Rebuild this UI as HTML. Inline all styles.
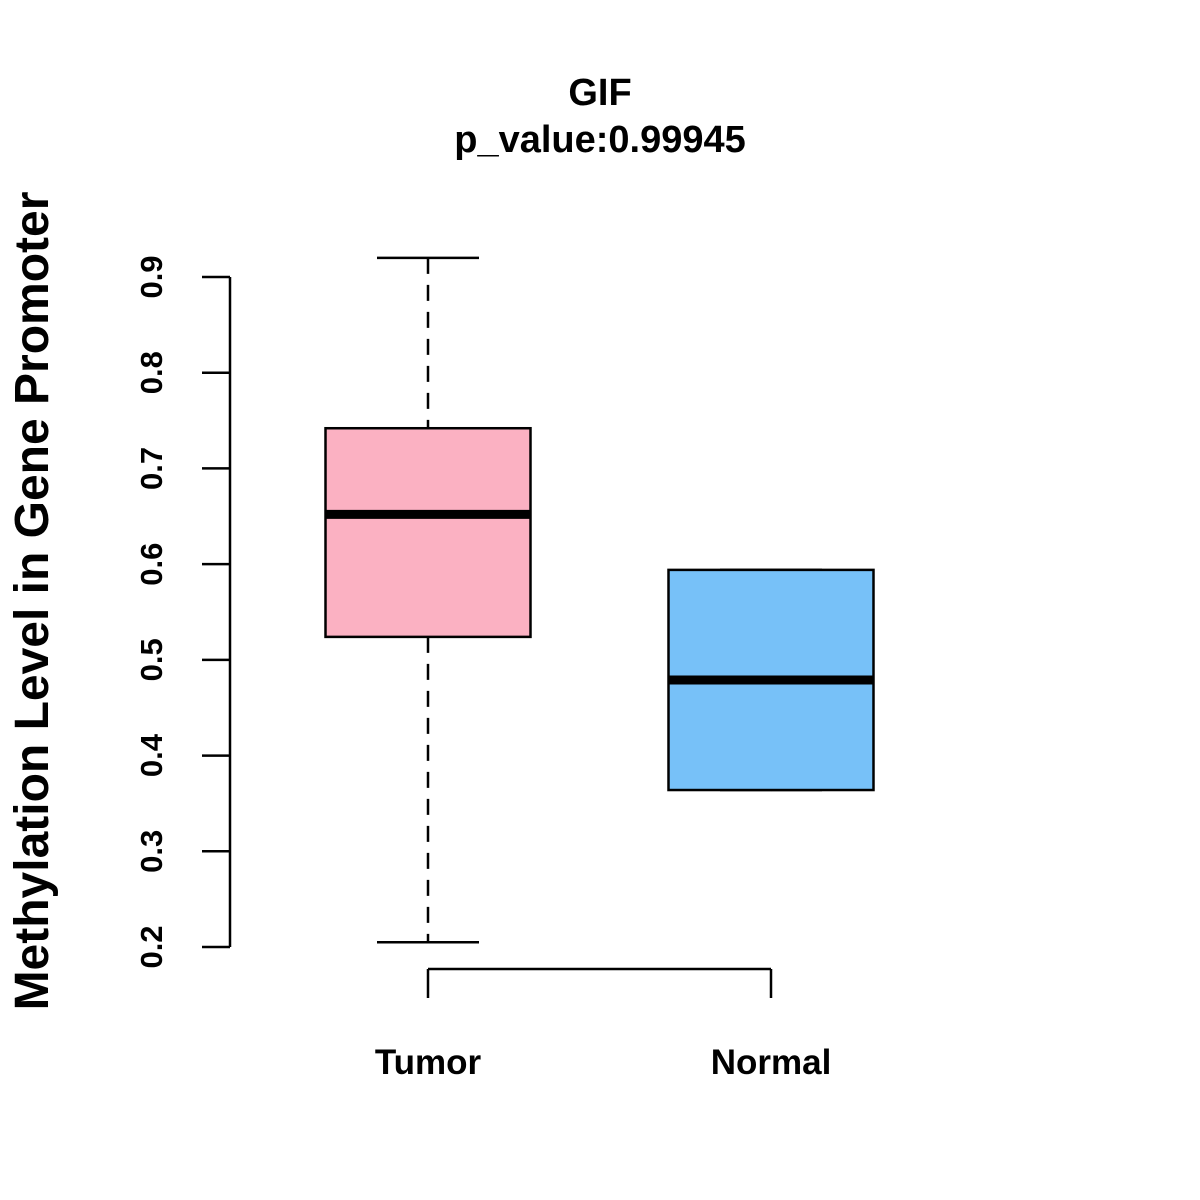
<!DOCTYPE html>
<html><head><meta charset="utf-8">
<style>
html,body{margin:0;padding:0;background:#fff;}
svg{display:block;font-family:"Liberation Sans",Arial,sans-serif;font-weight:bold;}
</style></head>
<body>
<svg id="chart" width="1200" height="1200" viewBox="0 0 1200 1200">
<text x="600" y="105" text-anchor="middle" font-size="38">GIF</text>
<text x="600" y="152" text-anchor="middle" font-size="38">p_value:0.99945</text>
<text transform="translate(48,601) rotate(-90)" text-anchor="middle" font-size="48">Methylation Level in Gene Promoter</text>
<g id="yaxis"></g>
<g id="xaxis"></g>
<g id="boxes"></g>
</svg>
<script>
const categories = ["Tumor", "Normal"];
const colors = ["#FBB1C2", "#77C1F8"];
const whiskerLow = [0.205, 0.364];
const q1 = [0.524, 0.364];
const medians = [0.652, 0.479];
const q3 = [0.742, 0.594];
const whiskerHigh = [0.920, 0.594];
const yTicks = [0.2, 0.3, 0.4, 0.5, 0.6, 0.7, 0.8, 0.9];

const NS = "http://www.w3.org/2000/svg";
function y(v){ return 947 - (v - 0.2) / 0.7 * 670; }
function x(i){ return 428 + i * 343; }
function mk(tag, attrs, parent){
  const e = document.createElementNS(NS, tag);
  for (const k in attrs) e.setAttribute(k, attrs[k]);
  parent.appendChild(e);
  return e;
}
const ya = document.getElementById('yaxis');
mk('line', {x1:230, x2:230, y1:y(yTicks[0]), y2:y(yTicks[yTicks.length-1]), stroke:'#000', 'stroke-width':2.5}, ya);
yTicks.forEach(t => {
  const l = mk('line', {x1:202, x2:230, y1:y(t), y2:y(t), stroke:'#000', 'stroke-width':2.5}, ya);
  
  
  const tx = mk('text', {transform:`translate(162,${y(t)}) rotate(-90)`, 'text-anchor':'middle', 'font-size':31}, ya);
  tx.textContent = t.toFixed(1);
  
  
});
const xa = document.getElementById('xaxis');
mk('line', {x1:x(0), x2:x(categories.length-1), y1:969, y2:969, stroke:'#000', 'stroke-width':2.5}, xa);
categories.forEach((c, i) => {
  const l = mk('line', {x1:x(i), x2:x(i), y1:969, y2:998, stroke:'#000', 'stroke-width':2.5}, xa);
  
  
  const tx = mk('text', {x:x(i), y:1074, 'text-anchor':'middle', 'font-size':35}, xa);
  tx.textContent = c;
  
  
});
const bg = document.getElementById('boxes');
categories.forEach((c, i) => {
  const cx = x(i), hw = 102.5, cw = 51;
  const g = mk('g', {}, bg);
  
  
  mk('line', {x1:cx, x2:cx, y1:y(whiskerHigh[i]), y2:y(q3[i]), stroke:'#000', 'stroke-width':2.5, 'stroke-dasharray':'16,11'}, g);
  mk('line', {x1:cx, x2:cx, y1:y(q1[i]), y2:y(whiskerLow[i]), stroke:'#000', 'stroke-width':2.5, 'stroke-dasharray':'16,11'}, g);
  mk('line', {x1:cx-cw, x2:cx+cw, y1:y(whiskerHigh[i]), y2:y(whiskerHigh[i]), stroke:'#000', 'stroke-width':2.5}, g);
  mk('line', {x1:cx-cw, x2:cx+cw, y1:y(whiskerLow[i]), y2:y(whiskerLow[i]), stroke:'#000', 'stroke-width':2.5}, g);
  mk('rect', {x:cx-hw, y:y(q3[i]), width:hw*2, height:y(q1[i])-y(q3[i]), fill:colors[i], stroke:'#000', 'stroke-width':2.5}, g);
  mk('line', {x1:cx-hw, x2:cx+hw, y1:y(medians[i]), y2:y(medians[i]), stroke:'#000', 'stroke-width':9}, g);
});
</script>
</body></html>
